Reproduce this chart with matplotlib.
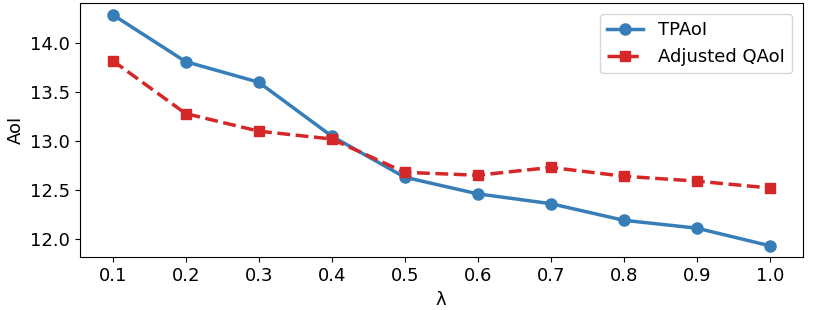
import matplotlib
matplotlib.use("Agg")
import matplotlib.pyplot as plt


lambdas = [0.1, 0.2, 0.3, 0.4, 0.5, 0.6, 0.7, 0.8, 0.9, 1.0]

tpaoi = [14.29, 13.81, 13.60, 13.05, 12.63, 12.46, 12.36, 12.19, 12.11, 11.93]
adjusted_qaoi = [13.82, 13.28, 13.10, 13.02, 12.68, 12.65, 12.73, 12.64, 12.59, 12.52]


def plot_aoi():

    fig, ax = plt.subplots(figsize=(8.14, 3.1), dpi=100)

    ax.plot(lambdas, tpaoi, color="#377eb8", marker="o", linewidth=2.5,
            markersize=8, label="TPAoI")
    ax.plot(lambdas, adjusted_qaoi, color="#d62728", marker="s", linestyle="--",
            linewidth=2.5, markersize=7, label="Adjusted QAoI")

    ax.set_xticks(lambdas)
    ax.set_xticklabels([f"{v:.1f}" for v in lambdas])
    ax.set_yticks([12.0, 12.5, 13.0, 13.5, 14.0])
    ax.tick_params(labelsize=13)

    ax.set_xlabel("λ", fontsize=13)
    ax.set_ylabel("AoI", fontsize=13)

    ax.legend(fontsize=13, loc="upper right", borderaxespad=0.6)

    fig.subplots_adjust(left=0.098, right=0.986, top=0.99, bottom=0.17)
    fig.savefig("out.png", dpi=100)


if __name__ == "__main__":
    plot_aoi()
